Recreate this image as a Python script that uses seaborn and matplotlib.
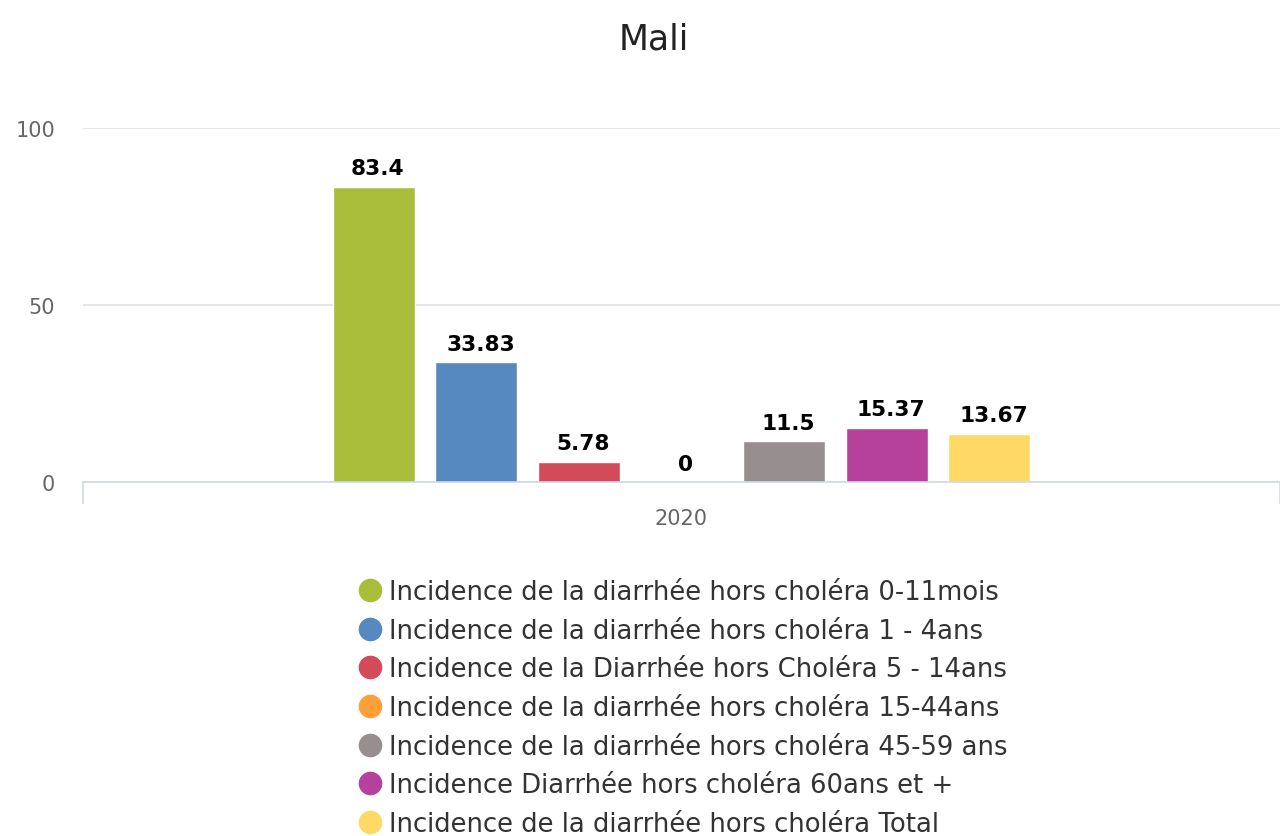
import numpy as np
import pandas as pd
import seaborn as sns
import matplotlib
matplotlib.use("Agg")
import matplotlib.pyplot as plt
from matplotlib.lines import Line2D

# ---- data ----
title = "Mali"
categories = ["2020"]
series = [
    "Incidence de la diarrhée hors choléra 0-11mois",
    "Incidence de la diarrhée hors choléra 1 - 4ans",
    "Incidence de la Diarrhée hors Choléra 5 - 14ans",
    "Incidence de la diarrhée hors choléra 15-44ans",
    "Incidence de la diarrhée hors choléra 45-59 ans",
    "Incidence Diarrhée hors choléra 60ans et +",
    "Incidence de la diarrhée hors choléra Total",
]
values = [83.4, 33.83, 5.78, 0, 11.5, 15.37, 13.67]
colors = ["#AABD3B", "#5589BF", "#D34A58", "#FF9F3A", "#978F8F", "#B5419D", "#FFD966"]
y_ticks = [0, 50, 100]

sns.set_theme(style="white")
plt.rcParams["font.family"] = ["DejaVu Sans"]

W, H = 1280, 837
fig = plt.figure(figsize=(W / 100, H / 100), dpi=100)
ax = fig.add_axes([83 / W, 1 - 483 / H, 1 - 83 / W, (483 - 129) / H])

df = pd.DataFrame({
    "year": categories * len(series),
    "series": series,
    "value": values,
})
sns.barplot(data=df, x="year", y="value", hue="series", hue_order=series,
            palette=dict(zip(series, colors)), width=0.6, gap=0.2,
            saturation=1, legend=False, errorbar=None, ax=ax)

ax.set_xlim(-0.5, 0.5)
ax.set_ylim(0, 100)
ax.set_yticks(y_ticks)
ax.yaxis.grid(True, color="#dedede", linewidth=1.1)
ax.xaxis.grid(False)
ax.set_axisbelow(True)
for s in ["left", "top", "right"]:
    ax.spines[s].set_visible(False)
ax.spines["bottom"].set_color("#ccd6eb")
ax.spines["bottom"].set_linewidth(1.1)
ax.tick_params(axis="y", length=0, pad=20, labelsize=15, labelcolor="#666666")
ax.tick_params(axis="x", which="major", bottom=True, length=0, pad=19,
               labelsize=15, labelcolor="#666666")
ax.set_xticks([-0.5, 0.5], minor=True)
ax.tick_params(axis="x", which="minor", bottom=True, length=16, width=1.1,
               color="#ccd6eb", direction="out")
ax.set_xlabel("")
ax.set_ylabel("")

for container, v in zip(ax.containers, values):
    bar = container.patches[0]
    ax.annotate(f"{v:g}", xy=(bar.get_x() + bar.get_width() / 2, bar.get_height()),
                xytext=(3, 6), textcoords="offset points", ha="center", va="bottom",
                fontsize=15.6, fontweight="bold", color="black", annotation_clip=False)

fig.text(654 / W, 1 - 39 / H, title, ha="center", va="center", fontsize=25, color="#222222")

handles = [Line2D([0], [0], marker="o", linestyle="", markersize=16,
                  markerfacecolor=c, markeredgecolor=c) for c in colors]
fig.legend(handles, series, loc="upper left", bbox_to_anchor=(357 / W, 1 - 580 / H),
           frameon=False, fontsize=18.6, handlelength=1.0, handletextpad=0.25,
           labelspacing=0.49, borderpad=0, borderaxespad=0, labelcolor="#333333")

fig.savefig("out.png", dpi=100)
